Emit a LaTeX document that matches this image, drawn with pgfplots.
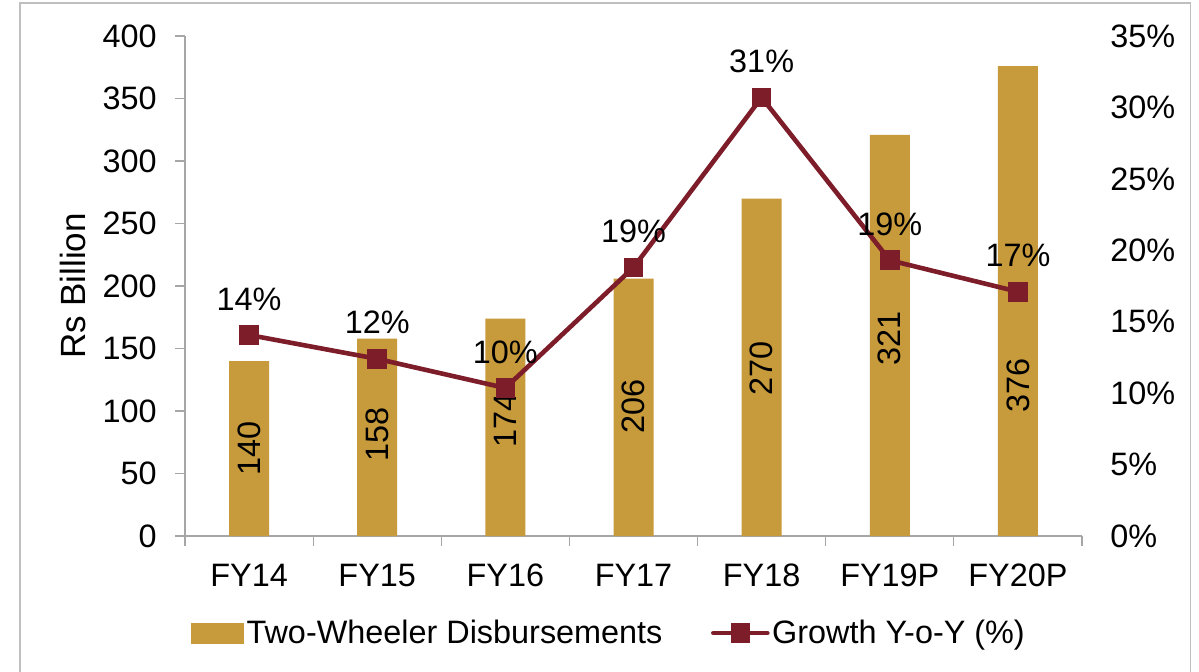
\documentclass[border=0pt]{standalone}
\usepackage{pgfplots}
\pgfplotsset{compat=1.18}
\usepackage{fontspec}
\setmainfont{Liberation Sans}
\definecolor{barcol}{HTML}{C79A3B}
\definecolor{linecol}{HTML}{7D1D2A}
\definecolor{axcol}{HTML}{A6A6A6}
\definecolor{framecol}{HTML}{BFBFBF}
\begin{document}
\begin{tikzpicture}[font=\fontsize{16.2bp}{19bp}\selectfont]
\useasboundingbox (0,0) rectangle (599.5bp,336bp);
\draw[framecol, line width=0.8bp] (10bp,-20bp) rectangle (595.3bp,334.5bp);
\begin{axis}[
  at={(92.5bp,68bp)}, anchor=south west,
  scale only axis, width=448.5bp, height=250bp,
  xmin=-0.5, xmax=6.5, ymin=0, ymax=400,
  axis y line*=left, axis x line*=bottom,
  axis line style={axcol, line width=0.6bp},
  ytick={0,50,...,400},
  xtick={-0.5,0.5,...,6.5}, xticklabels={},
  extra x ticks={0,1,2,3,4,5,6},
  extra x tick labels={FY14,FY15,FY16,FY17,FY18,FY19P,FY20P},
  extra x tick style={tick style={draw=none}, xticklabel style={anchor=base, inner sep=0pt, yshift=-20bp}},
  tick align=outside, major tick length=5bp,
  tick style={axcol, line width=0.6bp},
  /pgf/number format/assume math mode=true,
  yticklabel style={anchor=east, inner sep=0pt, xshift=-9bp},
  every axis y label/.style={at={(axis description cs:0,0.5)}, rotate=90, anchor=center, yshift=56bp},
  ylabel={\fontsize{17.5bp}{20bp}\selectfont Rs Billion},
  clip=false,
]
\addplot[ybar, bar width=20bp, fill=barcol, draw=none] coordinates {
  (0,140) (1,158) (2,174) (3,206) (4,270) (5,321) (6,376)};
\node[rotate=90, inner sep=0pt] at (axis cs:0,70.4) {140};
\node[rotate=90, inner sep=0pt] at (axis cs:1,81.6) {158};
\node[rotate=90, inner sep=0pt] at (axis cs:2,92.8) {174};
\node[rotate=90, inner sep=0pt] at (axis cs:3,104) {206};
\node[rotate=90, inner sep=0pt] at (axis cs:4,134.4) {270};
\node[rotate=90, inner sep=0pt] at (axis cs:5,158.4) {321};
\node[rotate=90, inner sep=0pt] at (axis cs:6,120.8) {376};
\end{axis}
\begin{axis}[
  at={(92.5bp,68bp)}, anchor=south west,
  scale only axis, width=448.5bp, height=250bp,
  xmin=-0.5, xmax=6.5, ymin=0, ymax=35,
  axis y line*=right, axis x line=none,
  y axis line style={draw=none},
  ytick={0,5,...,35}, major tick length=0pt, ytick style={draw=none},
  yticklabel={\pgfmathprintnumber{\tick}\%},
  /pgf/number format/assume math mode=true,
  yticklabel style={anchor=west, inner sep=0pt, xshift=14bp},
  clip=false,
  legend style={at={(axis description cs:0.473,-0.194)}, anchor=center,
    draw=none, fill=none, legend columns=2,
    /tikz/every even column/.append style={column sep=23bp},
    nodes={inner sep=1.25bp, text=black}},
  legend cell align=left,
]
\addlegendimage{legend image code/.code={\fill[barcol] (0bp,-5bp) rectangle (26bp,5bp);}}
\addlegendentry{Two-Wheeler Disbursements}
\addlegendimage{legend image code/.code={\draw[linecol, line width=2.3bp, line cap=round, mark=square*, mark size=3.75bp, mark repeat=2, mark phase=2] plot coordinates {(0bp,0bp) (13.5bp,0bp) (27bp,0bp)};}}
\addlegendentry{Growth Y-o-Y (\%)}
\addplot[linecol, line width=2.3bp, mark=square*, mark size=3.75bp, forget plot,
  point meta=explicit symbolic, nodes near coords,
  every node near coord/.append style={anchor=base, inner sep=0pt, yshift=12.5bp, text=black}]
  coordinates {
  (0,14.07) [14\%]
  (1,12.4) [12\%]
  (2,10.36) [10\%]
  (3,18.8) [19\%]
  (4,30.7) [31\%]
  (5,19.3) [19\%]
  (6,17.1) [17\%]};
\end{axis}
\end{tikzpicture}
\end{document}
